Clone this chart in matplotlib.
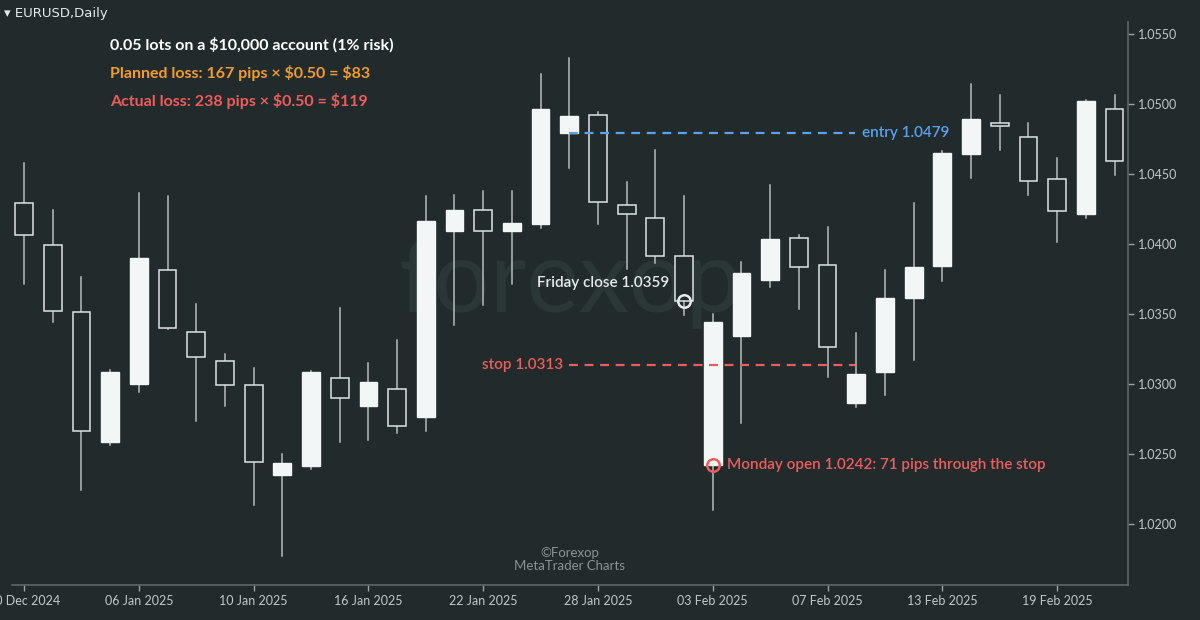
import matplotlib
matplotlib.use("Agg")
import matplotlib.pyplot as plt
from matplotlib.patches import Rectangle
import numpy as np

dates = ["30 Dec 2024","31 Dec","02 Jan","03 Jan","06 Jan 2025","07 Jan","08 Jan","09 Jan","10 Jan 2025","13 Jan",
         "14 Jan","15 Jan","16 Jan 2025","17 Jan","20 Jan","21 Jan","22 Jan 2025","23 Jan","24 Jan","27 Jan",
         "28 Jan 2025","29 Jan","30 Jan","31 Jan","03 Feb 2025","04 Feb","05 Feb","06 Feb","07 Feb 2025","10 Feb",
         "11 Feb","12 Feb","13 Feb 2025","14 Feb","17 Feb","18 Feb","19 Feb 2025","20 Feb","21 Feb"]
opens  = [1.0429,1.0399,1.0351,1.0258,1.0300,1.0381,1.0337,1.0316,1.0299,1.0235,1.0241,1.0304,1.0284,1.0296,1.0276,
          1.0409,1.0424,1.0409,1.0414,1.0479,1.0492,1.0428,1.0418,1.0391,1.0242,1.0334,1.0374,1.0404,1.0385,1.0286,
          1.0308,1.0361,1.0384,1.0464,1.0486,1.0476,1.0446,1.0421,1.0496]
highs  = [1.0458,1.0424,1.0376,1.0310,1.0436,1.0434,1.0357,1.0321,1.0311,1.0250,1.0309,1.0354,1.0315,1.0331,1.0434,
          1.0435,1.0438,1.0438,1.0521,1.0533,1.0494,1.0444,1.0467,1.0434,1.0350,1.0387,1.0442,1.0406,1.0412,1.0336,
          1.0381,1.0429,1.0466,1.0514,1.0506,1.0486,1.0461,1.0503,1.0506]
lows   = [1.0371,1.0344,1.0224,1.0256,1.0294,1.0339,1.0273,1.0284,1.0213,1.0177,1.0239,1.0258,1.0260,1.0265,1.0266,
          1.0342,1.0356,1.0371,1.0411,1.0454,1.0414,1.0382,1.0386,1.0349,1.0210,1.0272,1.0369,1.0353,1.0305,1.0283,
          1.0292,1.0317,1.0373,1.0447,1.0467,1.0435,1.0401,1.0418,1.0449]
closes = [1.0406,1.0352,1.0266,1.0308,1.0390,1.0340,1.0319,1.0299,1.0244,1.0243,1.0308,1.0290,1.0301,1.0270,1.0416,
          1.0424,1.0409,1.0415,1.0496,1.0491,1.0430,1.0421,1.0391,1.0359,1.0344,1.0379,1.0403,1.0383,1.0326,1.0307,
          1.0361,1.0383,1.0465,1.0489,1.0484,1.0445,1.0423,1.0502,1.0459]
yticks = [1.0200,1.0250,1.0300,1.0350,1.0400,1.0450,1.0500,1.0550]
entry, stop, fri_close, mon_open = 1.0479, 1.0313, 1.0359, 1.0242
entry_idx, fri_idx, mon_idx = 19, 23, 24

BG = "#212b2c"
plt.rcParams['font.family'] = ['Lato', 'DejaVu Sans']
fig = plt.figure(figsize=(12, 6.2), dpi=100, facecolor=BG)
ax = fig.add_axes([0.01, 0.057, 0.93, 0.908], facecolor=BG)

w = 0.62
for i in range(len(opens)):
    o, h, l, c = opens[i], highs[i], lows[i], closes[i]
    ax.plot([i, i], [l, h], color="#b5bcbc", lw=1.1, zorder=2)
    bot, top = min(o, c), max(o, c)
    if c >= o:
        ax.add_patch(Rectangle((i - w/2, bot), w, max(top - bot, 0.00005), facecolor="#f3f6f6",
                               edgecolor="#f3f6f6", lw=1, zorder=3))
    else:
        ax.add_patch(Rectangle((i - w/2, bot), w, max(top - bot, 0.00005), facecolor=BG,
                               edgecolor="#dfe4e4", lw=1.1, zorder=3))

ax.set_xlim(-0.42, 38.47)
ax.set_ylim(1.01564, 1.05586)

ax.plot([entry_idx, 28.95], [entry, entry], ls=(0, (4, 3)), color="#5aa2f0", lw=1.6, zorder=4)
ax.text(29.2, entry, "entry 1.0479", color="#5aa2f0", fontsize=11, va="center", ha="left", zorder=5,
        fontweight="semibold")
ax.plot([19.0, 28.95], [stop, stop], ls=(0, (4, 3)), color="#ef5c5c", lw=1.6, zorder=4)
ax.text(18.8, stop, "stop 1.0313", color="#ef5c5c", fontsize=11, va="center", ha="right", zorder=5,
        fontweight="semibold")
ax.text(22.5, 1.0372, "Friday close 1.0359", color="#e6eaea", fontsize=11, va="center", ha="right", zorder=5,
        fontweight="semibold")
ax.plot([fri_idx], [fri_close], marker="o", ms=9, mfc="none", mec="#e6eaea", mew=1.8, zorder=6)
ax.plot([mon_idx], [mon_open], marker="o", ms=9, mfc="none", mec="#ef5c5c", mew=1.8, zorder=6)
ax.text(24.5, mon_open, "Monday open 1.0242: 71 pips through the stop", color="#ef5c5c", fontsize=11,
        va="center", ha="left", zorder=5, fontweight="semibold")

ax.text(0.5, 0.535, "forexop", transform=ax.transAxes, fontsize=72, color="#2b3637", ha="center",
        va="center", zorder=1)
ax.text(0.5, 0.045, "©Forexop\nMetaTrader Charts", transform=ax.transAxes, fontsize=9.5, color="#8a9494",
        ha="center", va="center", zorder=1, linespacing=1.1)

fig.text(110/1200, 1 - 45/620, "0.05 lots on a \\$10,000 account (1% risk)", color="#ffffff", fontsize=11.5,
         fontweight="bold", va="center")
fig.text(110/1200, 1 - 73/620, "Planned loss: 167 pips × \\$0.50 = \\$83", color="#f39b2e", fontsize=11.5,
         fontweight="bold", va="center")
fig.text(110/1200, 1 - 101/620, "Actual loss: 238 pips × \\$0.50 = \\$119", color="#f25b5b", fontsize=11.5,
         fontweight="bold", va="center")
fig.text(4/1200, 1 - 13/620, "▾ EURUSD,Daily", color="#e6eaea", fontsize=9.5, va="center",
         family=['DejaVu Sans'])

ax.yaxis.tick_right()
ax.set_yticks(yticks)
ax.set_yticklabels([f"{v:.4f}" for v in yticks])
xt = list(range(0, len(dates), 4))
ax.set_xticks(xt)
ax.set_xticklabels([dates[i] for i in xt])
ax.tick_params(colors="#9aa4a4", labelcolor="#c2c8c8", labelsize=9, length=4, width=1)
for s in ["top", "left"]:
    ax.spines[s].set_visible(False)
for s in ["right", "bottom"]:
    ax.spines[s].set_color("#5d6868")
    ax.spines[s].set_linewidth(1.2)

fig.savefig("out.png", dpi=100, facecolor=BG)
